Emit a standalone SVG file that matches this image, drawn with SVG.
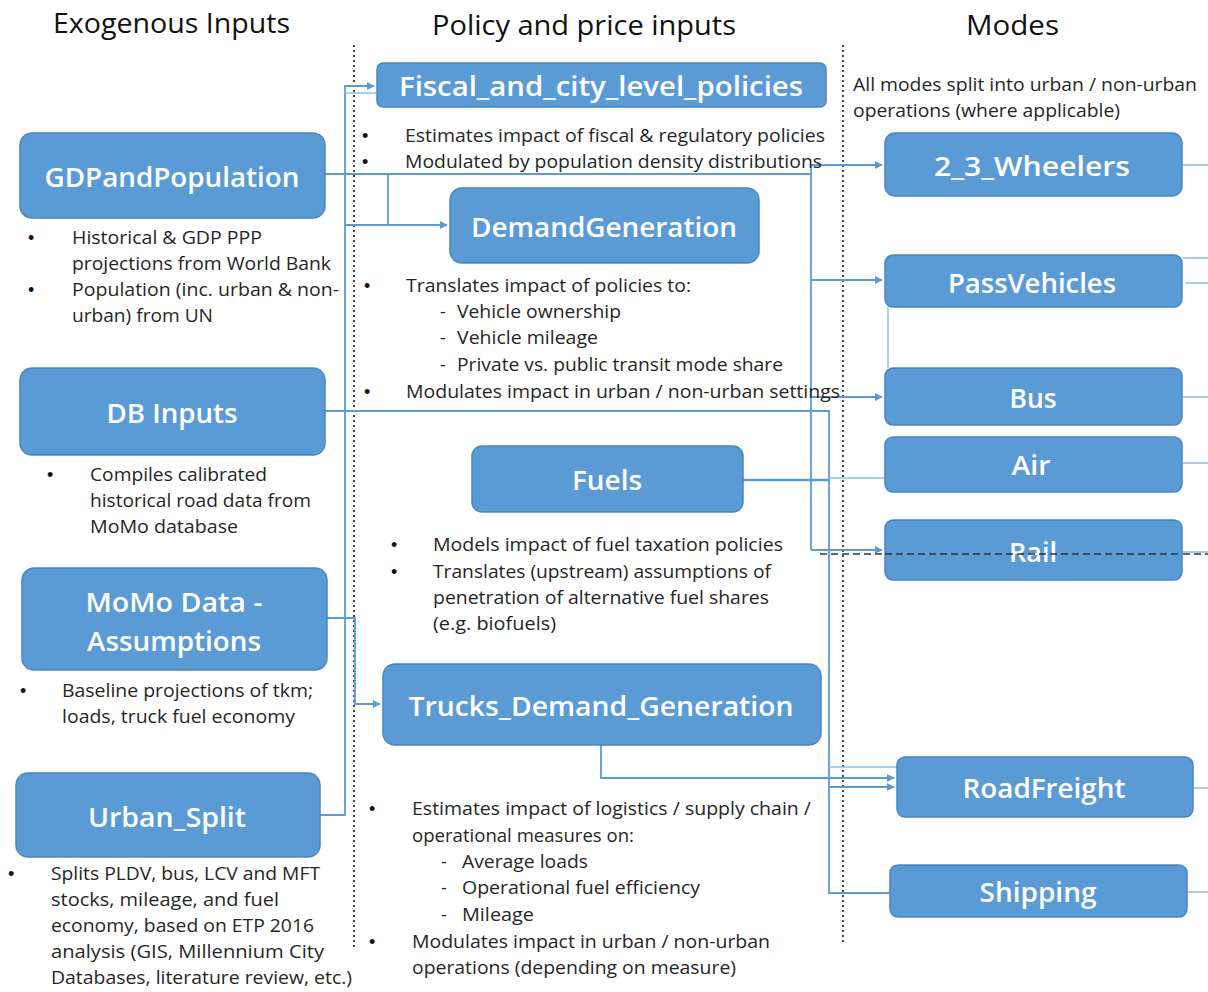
<svg xmlns="http://www.w3.org/2000/svg" width="1208" height="992" viewBox="0 0 1208 992">
<defs>
<marker id="arr" viewBox="0 0 10 10" refX="9" refY="5" markerWidth="8" markerHeight="8" orient="auto" markerUnits="userSpaceOnUse">
<path d="M0,0 L10,5 L0,10 z" fill="#5B9BD5"/>
</marker>
<style>
.box{fill:#5B9BD5;stroke:#4A86C2;stroke-width:1.5}
.lbl{font-family:"Open Sans","Noto Sans",sans-serif;font-size:27px;font-weight:600;fill:#ffffff;text-anchor:middle;dominant-baseline:central}
.hdr{font-family:"Open Sans","Noto Sans",sans-serif;font-size:27px;fill:#111111}
.t{font-family:"Open Sans","Noto Sans",sans-serif;font-size:18px;fill:#262626}
.b{font-family:"Liberation Sans",sans-serif;font-size:18px;fill:#111111}
.c{fill:none;stroke:#5B9BD5;stroke-width:1.8}
.cl{fill:none;stroke:#8DBCE8;stroke-width:1.5}
.div{fill:none;stroke:#444444;stroke-width:2;stroke-dasharray:2,3}
</style>
</defs>
<rect width="1208" height="992" fill="#ffffff"/>

<g id="dividers">
<path class="div" d="M354,45 V948"/>
<path class="div" d="M843,45 V942"/>
</g>

<g id="headers">
<text class="hdr" x="53" y="33" textLength="237" lengthAdjust="spacingAndGlyphs">Exogenous Inputs</text>
<text class="hdr" x="432" y="35" textLength="304" lengthAdjust="spacingAndGlyphs">Policy and price inputs</text>
<text class="hdr" x="966" y="35" textLength="93" lengthAdjust="spacingAndGlyphs">Modes</text>
</g>

<g id="connectors">
<path class="c" d="M325,174 H811"/>
<path class="c" d="M811,165 V550"/>
<path class="c" d="M811,165 H882" marker-end="url(#arr)"/>
<path class="c" d="M811,280 H882" marker-end="url(#arr)"/>
<path class="c" d="M811,397 H882" marker-end="url(#arr)"/>
<path class="c" d="M811,550 H882" marker-end="url(#arr)"/>
<path class="c" d="M388,174 V225"/>
<path class="c" d="M345,225 H447" marker-end="url(#arr)"/>
<path class="c" d="M320,815 H345 V86 H374" marker-end="url(#arr)"/>
<path class="cl" d="M345,93 H378"/>
<path class="c" d="M325,411 H829 V893 H890"/>
<path class="cl" d="M829,767 H897"/>
<path class="c" d="M829,787 H894" marker-end="url(#arr)"/>
<path class="c" d="M601,745 V778 H894" marker-end="url(#arr)"/>
<path class="c" d="M743,480 H829" style="stroke-width:2.5"/>
<path class="cl" d="M829,478 H885"/>
<path class="c" d="M327,618 H355 V704 H380" marker-end="url(#arr)"/>
<path class="cl" d="M888,307 V368"/>
<path class="cl" d="M1182,165 H1208 M1182,258 H1208 M1186,283 H1208 M1182,397 H1208 M1182,463 H1208 M1182,552 H1208 M1193,788 H1208 M1187,892 H1208"/>
<path d="M820,554 H1208" fill="none" stroke="#333333" stroke-width="1.6" stroke-dasharray="7,4"/>
</g>

<g id="GDPandPopulation">
<rect class="box" x="20" y="133" width="305" height="85" rx="12"/>
<text class="lbl" x="172" y="176" textLength="255" lengthAdjust="spacingAndGlyphs">GDPandPopulation</text>
<text class="b" x="28" y="244">•</text>
<text class="t" x="72" y="244" textLength="190" lengthAdjust="spacingAndGlyphs">Historical &amp; GDP PPP</text>
<text class="t" x="72" y="270" textLength="259" lengthAdjust="spacingAndGlyphs">projections from World Bank</text>
<text class="b" x="28" y="296">•</text>
<text class="t" x="72" y="296" textLength="267" lengthAdjust="spacingAndGlyphs">Population (inc. urban &amp; non-</text>
<text class="t" x="72" y="322" textLength="141" lengthAdjust="spacingAndGlyphs">urban) from UN</text>
</g>

<g id="DBInputs">
<rect class="box" x="20" y="368" width="305" height="87" rx="12"/>
<text class="lbl" x="172" y="412" textLength="131" lengthAdjust="spacingAndGlyphs">DB Inputs</text>
<text class="b" x="47" y="481">•</text>
<text class="t" x="90" y="481" textLength="177" lengthAdjust="spacingAndGlyphs">Compiles calibrated</text>
<text class="t" x="90" y="507" textLength="221" lengthAdjust="spacingAndGlyphs">historical road data from</text>
<text class="t" x="90" y="533" textLength="148" lengthAdjust="spacingAndGlyphs">MoMo database</text>
</g>

<g id="MoMoData">
<rect class="box" x="22" y="568" width="305" height="102" rx="12"/>
<text class="lbl" x="174" y="601" textLength="177" lengthAdjust="spacingAndGlyphs">MoMo Data -</text>
<text class="lbl" x="174" y="640" textLength="174" lengthAdjust="spacingAndGlyphs">Assumptions</text>
<text class="b" x="20" y="697">•</text>
<text class="t" x="62" y="697" textLength="251" lengthAdjust="spacingAndGlyphs">Baseline projections of tkm;</text>
<text class="t" x="62" y="723" textLength="233" lengthAdjust="spacingAndGlyphs">loads, truck fuel economy</text>
</g>

<g id="Urban_Split">
<rect class="box" x="16" y="773" width="304" height="84" rx="12"/>
<text class="lbl" x="167" y="816" textLength="158" lengthAdjust="spacingAndGlyphs">Urban_Split</text>
<text class="b" x="8" y="880">•</text>
<text class="t" x="51" y="880" textLength="269" lengthAdjust="spacingAndGlyphs">Splits PLDV, bus, LCV and MFT</text>
<text class="t" x="51" y="906" textLength="228" lengthAdjust="spacingAndGlyphs">stocks, mileage, and fuel</text>
<text class="t" x="51" y="932" textLength="263" lengthAdjust="spacingAndGlyphs">economy, based on ETP 2016</text>
<text class="t" x="51" y="958" textLength="273" lengthAdjust="spacingAndGlyphs">analysis (GIS, Millennium City</text>
<text class="t" x="51" y="984" textLength="301" lengthAdjust="spacingAndGlyphs">Databases, literature review, etc.)</text>
</g>

<g id="Fiscal_and_city_level_policies">
<rect class="box" x="377" y="63" width="449" height="44" rx="6"/>
<text class="lbl" x="601" y="85" textLength="404" lengthAdjust="spacingAndGlyphs">Fiscal_and_city_level_policies</text>
<text class="b" x="362" y="142">•</text>
<text class="t" x="405" y="142" textLength="420" lengthAdjust="spacingAndGlyphs">Estimates impact of fiscal &amp; regulatory policies</text>
<text class="b" x="362" y="168">•</text>
<text class="t" x="405" y="168" textLength="417" lengthAdjust="spacingAndGlyphs">Modulated by population density distributions</text>
</g>

<g id="DemandGeneration">
<rect class="box" x="450" y="188" width="309" height="75" rx="12"/>
<text class="lbl" x="604" y="226" textLength="266" lengthAdjust="spacingAndGlyphs">DemandGeneration</text>
<text class="b" x="364" y="292">•</text>
<text class="t" x="406" y="292" textLength="285" lengthAdjust="spacingAndGlyphs">Translates impact of policies to:</text>
<text class="t" x="440" y="318">-</text>
<text class="t" x="457" y="318" textLength="164" lengthAdjust="spacingAndGlyphs">Vehicle ownership</text>
<text class="t" x="440" y="344">-</text>
<text class="t" x="457" y="344" textLength="141" lengthAdjust="spacingAndGlyphs">Vehicle mileage</text>
<text class="t" x="440" y="371">-</text>
<text class="t" x="457" y="371" textLength="326" lengthAdjust="spacingAndGlyphs">Private vs. public transit mode share</text>
<text class="b" x="364" y="398">•</text>
<text class="t" x="406" y="398" textLength="434" lengthAdjust="spacingAndGlyphs">Modulates impact in urban / non-urban settings</text>
</g>

<g id="Fuels">
<rect class="box" x="472" y="446" width="271" height="66" rx="10"/>
<text class="lbl" x="607" y="479" textLength="70" lengthAdjust="spacingAndGlyphs">Fuels</text>
<text class="b" x="391" y="551">•</text>
<text class="t" x="433" y="551" textLength="350" lengthAdjust="spacingAndGlyphs">Models impact of fuel taxation policies</text>
<text class="b" x="391" y="578">•</text>
<text class="t" x="433" y="578" textLength="338" lengthAdjust="spacingAndGlyphs">Translates (upstream) assumptions of</text>
<text class="t" x="433" y="604" textLength="336" lengthAdjust="spacingAndGlyphs">penetration of alternative fuel shares</text>
<text class="t" x="433" y="630" textLength="123" lengthAdjust="spacingAndGlyphs">(e.g. biofuels)</text>
</g>

<g id="Trucks_Demand_Generation">
<rect class="box" x="383" y="664" width="438" height="81" rx="12"/>
<text class="lbl" x="601" y="705" textLength="385" lengthAdjust="spacingAndGlyphs">Trucks_Demand_Generation</text>
<text class="b" x="369" y="815">•</text>
<text class="t" x="412" y="815" textLength="399" lengthAdjust="spacingAndGlyphs">Estimates impact of logistics / supply chain /</text>
<text class="t" x="412" y="842" textLength="222" lengthAdjust="spacingAndGlyphs">operational measures on:</text>
<text class="t" x="441" y="868">-</text>
<text class="t" x="462" y="868" textLength="126" lengthAdjust="spacingAndGlyphs">Average loads</text>
<text class="t" x="441" y="894">-</text>
<text class="t" x="462" y="894" textLength="238" lengthAdjust="spacingAndGlyphs">Operational fuel efficiency</text>
<text class="t" x="441" y="921">-</text>
<text class="t" x="462" y="921" textLength="72" lengthAdjust="spacingAndGlyphs">Mileage</text>
<text class="b" x="369" y="948">•</text>
<text class="t" x="412" y="948" textLength="358" lengthAdjust="spacingAndGlyphs">Modulates impact in urban / non-urban</text>
<text class="t" x="412" y="974" textLength="324" lengthAdjust="spacingAndGlyphs">operations (depending on measure)</text>
</g>

<g id="modes_note">
<text class="t" x="853" y="91" textLength="344" lengthAdjust="spacingAndGlyphs">All modes split into urban / non-urban</text>
<text class="t" x="853" y="117" textLength="267" lengthAdjust="spacingAndGlyphs">operations (where applicable)</text>
</g>

<g id="Wheelers_2_3">
<rect class="box" x="885" y="133" width="297" height="63" rx="10"/>
<text class="lbl" x="1032" y="165" textLength="196" lengthAdjust="spacingAndGlyphs">2_3_Wheelers</text>
</g>
<g id="PassVehicles">
<rect class="box" x="885" y="255" width="297" height="52" rx="8"/>
<text class="lbl" x="1032" y="282" textLength="168" lengthAdjust="spacingAndGlyphs">PassVehicles</text>
</g>
<g id="Bus">
<rect class="box" x="885" y="368" width="297" height="57" rx="8"/>
<text class="lbl" x="1033" y="397" textLength="47" lengthAdjust="spacingAndGlyphs">Bus</text>
</g>
<g id="Air">
<rect class="box" x="885" y="437" width="297" height="55" rx="8"/>
<text class="lbl" x="1031" y="464" textLength="39" lengthAdjust="spacingAndGlyphs">Air</text>
</g>
<g id="Rail">
<rect class="box" x="885" y="520" width="297" height="60" rx="8"/>
<text class="lbl" x="1033" y="551" textLength="48" lengthAdjust="spacingAndGlyphs">Rail</text>
<path d="M885,554 H1182" fill="none" stroke="#333333" stroke-width="1.6" stroke-dasharray="7,4"/>
</g>
<g id="RoadFreight">
<rect class="box" x="897" y="757" width="296" height="60" rx="8"/>
<text class="lbl" x="1044" y="787" textLength="163" lengthAdjust="spacingAndGlyphs">RoadFreight</text>
</g>
<g id="Shipping">
<rect class="box" x="890" y="865" width="297" height="52" rx="8"/>
<text class="lbl" x="1038" y="891" textLength="117" lengthAdjust="spacingAndGlyphs">Shipping</text>
</g>
</svg>
